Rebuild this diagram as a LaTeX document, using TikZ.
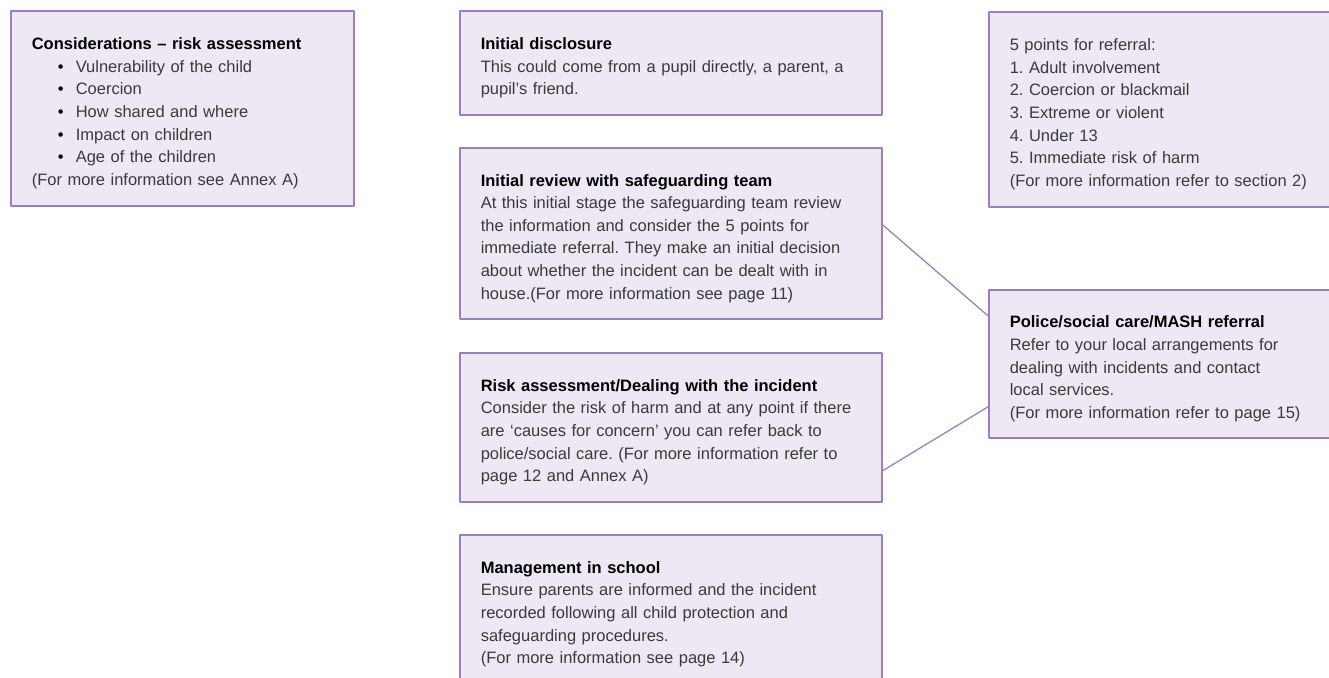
\documentclass[tikz,border=0pt]{standalone}
\usepackage{fontspec}
\setmainfont{Liberation Sans}
\frenchspacing
\definecolor{boxfill}{HTML}{EDE8F4}
\definecolor{boxline}{HTML}{9C80BE}
\definecolor{bodytext}{HTML}{3A3A3A}
\newcommand{\boxtitle}[1]{{\bfseries\color{black}#1}}
\newcommand{\bitem}{\hspace*{26pt}\makebox[18pt][l]{\color{black}\textbullet}}
\newcommand{\boxend}{\par\vspace{-10pt}}
\begin{document}
\begin{tikzpicture}[x=1pt, y=-1pt, line join=round,
	box/.style={draw=boxline, fill=boxfill, line width=1.6pt, anchor=north west, inner xsep=21pt, inner ysep=0pt, align=left, text=bodytext, font=\fontsize{16.5}{22.6}\selectfont, execute at end node=\boxend},
	link/.style={draw=boxline, line width=1.3pt}]
	\useasboundingbox (0,0) rectangle (1329,677);
	\clip (0,0) rectangle (1329,677);
	\node[box, text width=301pt, minimum height=195pt] (cons) at (10,10) {\boxtitle{Considerations – risk assessment}\\
		\bitem Vulnerability of the child\\
		\bitem Coercion\\
		\bitem How shared and where\\
		\bitem Impact on children\\
		\bitem Age of the children\\
		(For more information see Annex A)};
	\node[box, text width=380pt, minimum height=104pt] (disc) at (459,10) {\boxtitle{Initial disclosure}\\
		This could come from a pupil directly, a parent, a\\
		pupil’s friend.};
	\node[box, text width=380pt, minimum height=171pt] (review) at (459,147) {\boxtitle{Initial review with safeguarding team}\\
		At this initial stage the safeguarding team review\\
		the information and consider the 5 points for\\
		immediate referral. They make an initial decision\\
		about whether the incident can be dealt with in\\
		house.(For more information see page 11)};
	\node[box, text width=380pt, minimum height=149pt] (risk) at (459,352) {\boxtitle{Risk assessment/Dealing with the incident}\\
		Consider the risk of harm and at any point if there\\
		are ‘causes for concern’ you can refer back to\\
		police/social care. (For more information refer to\\
		page 12 and Annex A)};
	\node[box, text width=380pt, minimum height=149pt] (mgmt) at (459,534) {\boxtitle{Management in school}\\
		Ensure parents are informed and the incident\\
		recorded following all child protection and\\
		safeguarding procedures.\\
		(For more information see page 14)};
	\node[box, text width=318pt, minimum height=195pt] (points) at (988,11) {5 points for referral:\\
		1. Adult involvement\\
		2. Coercion or blackmail\\
		3. Extreme or violent\\
		4. Under 13\\
		5. Immediate risk of harm\\
		(For more information refer to section 2)};
	\node[box, text width=318pt, minimum height=148pt] (police) at (988,289) {\boxtitle{Police/social care/MASH referral}\\
		Refer to your local arrangements for\\
		dealing with incidents and contact\\
		local services.\\
		(For more information refer to page 15)};
	\draw[link] ([yshift=8.5pt]review.east) -- ([yshift=48pt]police.west);
	\draw[link] ([yshift=-43.5pt]risk.east) -- ([yshift=-43pt]police.west);
\end{tikzpicture}
\end{document}
